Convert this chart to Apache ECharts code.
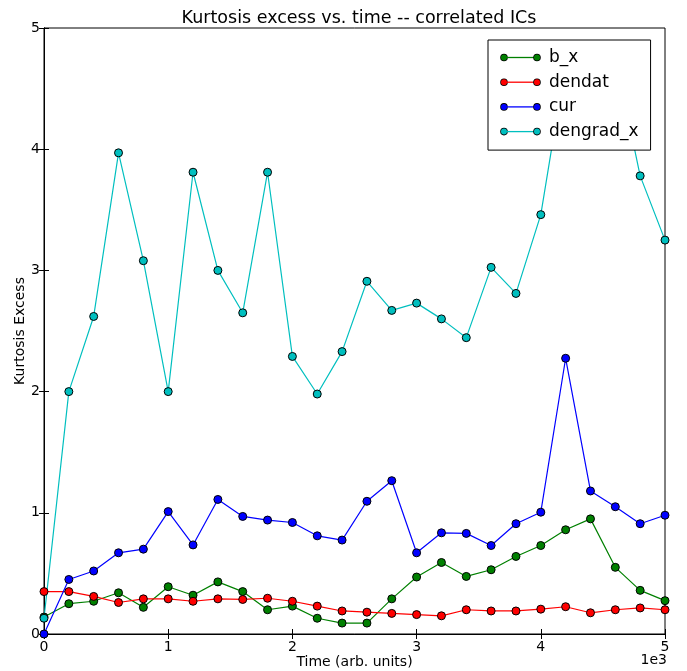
<!DOCTYPE html>
<html>
<head>
<meta charset="utf-8">
<script src="https://cdn.jsdelivr.net/npm/echarts@6/dist/echarts.min.js"></script>
<style>html,body{margin:0;padding:0;background:#fff}#c{width:687px;height:671px}</style>
</head>
<body>
<div id="c"></div>
<script>
const times = [0,200,400,600,800,1000,1200,1400,1600,1800,2000,2200,2400,2600,2800,3000,3200,3400,3600,3800,4000,4200,4400,4600,4800,5000];
const b_x = [0.14,0.25,0.27,0.34,0.22,0.39,0.32,0.43,0.35,0.20,0.23,0.13,0.09,0.09,0.29,0.47,0.59,0.475,0.53,0.64,0.73,0.86,0.95,0.55,0.36,0.275];
const dendat = [0.35,0.35,0.31,0.26,0.29,0.29,0.27,0.29,0.285,0.295,0.27,0.23,0.19,0.18,0.17,0.16,0.15,0.20,0.19,0.19,0.205,0.225,0.175,0.20,0.215,0.20];
const cur = [0.0,0.45,0.52,0.67,0.70,1.01,0.735,1.11,0.97,0.94,0.92,0.81,0.775,1.095,1.265,0.67,0.835,0.83,0.73,0.91,1.005,2.275,1.18,1.05,0.91,0.98];
const dengrad_x = [0.13,2.0,2.62,3.97,3.08,2.0,3.81,3.0,2.65,3.81,2.29,1.98,2.33,2.91,2.67,2.73,2.60,2.445,3.025,2.81,3.46,4.71,4.035,4.76,3.78,3.25];
const seriesNames = ['b_x','dendat','cur','dengrad_x'];
const xTicks = ['0','1','2','3','4','5'];

const FONT = 'DejaVu Sans';
const colors = {b_x:'#008000', dendat:'#ff0000', cur:'#0000ff', dengrad_x:'#00bfbf'};
const keys = {b_x:'g', dendat:'r', cur:'b', dengrad_x:'c'};
function pairs(vals){ return times.map((t,i)=>[t, vals[i]]); }
function mkSeries(name, vals){
  const color = colors[name];
  return {
    name, type:'line', data: pairs(vals), symbol:'circle', symbolSize:8,
    showSymbol:true, smooth:false,
    lineStyle:{color, width:1.2},
    itemStyle:{color, borderColor:'#000', borderWidth:1},
    emphasis:{disabled:true}
  };
}
const rich = {sp:{width:9, height:14}};
seriesNames.forEach(n=>{
  const k = keys[n], c = colors[n];
  rich['d'+k] = {width:6, height:6, borderRadius:3, backgroundColor:c, borderColor:'#000', borderWidth:0.8};
  rich['l'+k] = {width:27, height:1.3, backgroundColor:c};
});
const chart = echarts.init(document.getElementById('c'), null, {renderer:'canvas'});
const baseAxis = {
  axisLine:{show:true, lineStyle:{color:'#000', width:1}},
  axisTick:{show:true, inside:true, length:5, lineStyle:{color:'#000'}},
  splitLine:{show:false}
};
chart.setOption({
  animation:false,
  backgroundColor:'#fff',
  title:{text:'Kurtosis excess vs. time -- correlated ICs', left:354, top:4, textAlign:'center',
    textStyle:{fontFamily:FONT, fontSize:17.5, fontWeight:'normal', color:'#000'}},
  grid:{left:44, right:22, top:28, bottom:37, containLabel:false, outerBoundsMode:'none',
    show:true, borderColor:'#000', borderWidth:1},
  legend:{
    orient:'vertical', left:488, top:40,
    padding:[9,12,10,8], itemGap:7.7, itemWidth:0, itemHeight:14,
    icon:'rect', itemStyle:{color:'rgba(0,0,0,0)', borderWidth:0},
    backgroundColor:'#fff', borderColor:'#000', borderWidth:1,
    textStyle:{fontFamily:FONT, fontSize:17, color:'#000', lineHeight:14, rich:rich},
    formatter:(name)=>{const k = keys[name]; return '{d'+k+'|}{l'+k+'|}{d'+k+'|}{sp|}'+name;},
    data:seriesNames
  },
  xAxis:[
    Object.assign({}, baseAxis, {type:'value', min:0, max:5000, interval:1000, position:'bottom',
      name:'Time (arb. units)', nameLocation:'middle', nameGap:21, nameMoveOverlap:false,
      nameTextStyle:{fontFamily:FONT, fontSize:14, color:'#000'},
      axisLabel:{fontFamily:FONT, fontSize:14, color:'#000', margin:6,
        formatter:(v)=>xTicks[Math.round(v/1000)]}}),
    Object.assign({}, baseAxis, {type:'value', min:0, max:5000, interval:1000, position:'top',
      axisLabel:{show:false}})
  ],
  yAxis:[
    Object.assign({}, baseAxis, {type:'value', min:0, max:5, interval:1, position:'left',
      name:'Kurtosis Excess', nameLocation:'middle', nameGap:17, nameMoveOverlap:false,
      nameTextStyle:{fontFamily:FONT, fontSize:14, color:'#000'},
      axisLabel:{fontFamily:FONT, fontSize:14, color:'#000', margin:4}}),
    Object.assign({}, baseAxis, {type:'value', min:0, max:5, interval:1, position:'right',
      axisLabel:{show:false}})
  ],
  graphic:[{type:'text', right:20, top:653,
    style:{text:'1e3', fontFamily:FONT, fontSize:14, fill:'#000'}}],
  series:[
    mkSeries('b_x', b_x),
    mkSeries('dendat', dendat),
    mkSeries('cur', cur),
    mkSeries('dengrad_x', dengrad_x)
  ]
});
</script>
</body>
</html>
